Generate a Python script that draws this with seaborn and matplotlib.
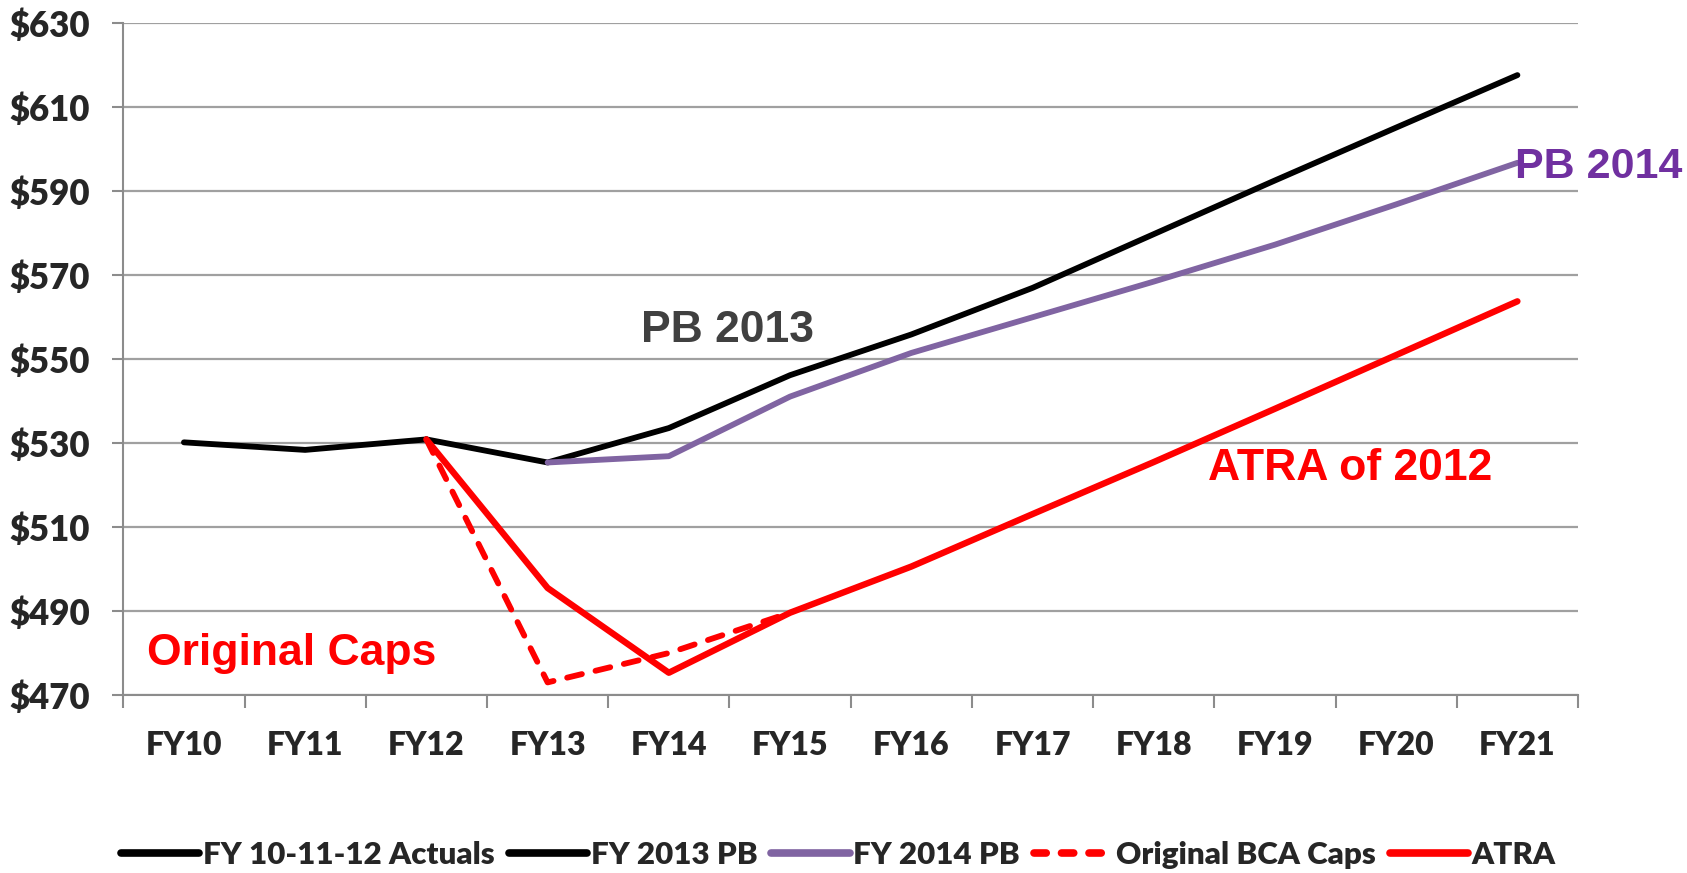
import matplotlib
matplotlib.use("Agg")
import matplotlib.pyplot as plt
import numpy as np
import pandas as pd
import seaborn as sns
from matplotlib.lines import Line2D
from matplotlib.ticker import FixedLocator, NullFormatter

# fiscal years on the x axis
years = ["FY10", "FY11", "FY12", "FY13", "FY14", "FY15",
         "FY16", "FY17", "FY18", "FY19", "FY20", "FY21"]
nan = np.nan

# values ($ billions)
actuals = [530.2, 528.4, 530.9, nan, nan, nan, nan, nan, nan, nan, nan, nan]
pb_2013 = [nan, nan, 530.9, 525.4, 533.6, 546.2, 555.9, 567.0, 579.8, 592.6, 605.2, 617.7]
pb_2014 = [nan, nan, nan, 525.4, 526.9, 541.1, 551.5, 560.0, 568.5, 577.3, 586.9, 596.8]
bca_caps = [nan, nan, 530.9, 473.0, 480.0, 489.6, nan, nan, nan, nan, nan, nan]
atra = [nan, nan, 530.9, 495.5, 475.3, 489.6, 500.6, 513.1, 525.5, 538.2, 551.0, 563.8]

series_names = ["FY 10-11-12 Actuals", "FY 2013 PB", "FY 2014 PB", "Original BCA Caps", "ATRA"]
series_values = [actuals, pb_2013, pb_2014, bca_caps, atra]
series_colors = ["#000000", "#000000", "#8064A2", "#FF0000", "#FF0000"]

y_ticks = list(range(470, 631, 20))
y_labels = ["$" + str(v) for v in y_ticks]

sns.set_style("white")
plt.rcParams['font.family'] = ['Lato', 'DejaVu Sans']
plt.rcParams['font.weight'] = 'heavy'
plt.rcParams['lines.solid_capstyle'] = 'round'
plt.rcParams['lines.dash_capstyle'] = 'round'

fig = plt.figure(figsize=(16.87, 8.73), dpi=100)
ax = fig.add_axes([0.0731, 0.2039, 0.9354 - 0.0731, 0.9731 - 0.2039])

xpos = np.arange(len(years))
df = pd.DataFrame({"x": xpos})
for name, vals in zip(series_names, series_values):
    df[name] = vals

handles = []
for name, color in zip(series_names, series_colors):
    dashed = name == "Original BCA Caps"
    lw = 4.2 if name != "ATRA" else 4.6
    sub = df[["x", name]].dropna()
    sns.lineplot(data=sub, x="x", y=name, ax=ax, color=color, linewidth=lw,
                 sort=False, legend=False, zorder=3 if not dashed else 2.5)
    line = ax.lines[-1]
    if dashed:
        line.set_dashes((2.6, 2.4))
    h = Line2D([], [], color=color, linewidth=5.5)
    if dashed:
        h.set_dashes((1.6, 2.0))
    handles.append(h)

# axes styling (Excel look)
ax.set_xlim(-0.5, len(years) - 0.5)
ax.set_ylim(470, 630)
ax.set_yticks(y_ticks)
ax.set_yticklabels(y_labels)
ax.xaxis.set_major_locator(FixedLocator(np.arange(-0.5, len(years), 1.0)))
ax.xaxis.set_major_formatter(NullFormatter())
ax.xaxis.set_minor_locator(FixedLocator(xpos))
ax.set_xticklabels(years, minor=True)
ax.tick_params(axis="x", which="major", direction="out", length=9, width=1.5,
               color="#8C8C8C", bottom=True)
ax.tick_params(axis="x", which="minor", length=0, pad=26, labelsize=23)
ax.tick_params(axis="y", direction="out", length=8, width=1.5, color="#8C8C8C",
               left=True, pad=16, labelsize=25)
for lbl in ax.get_xticklabels(minor=True) + ax.get_yticklabels():
    lbl.set_fontweight("heavy")
ax.set_xlabel("")
ax.set_ylabel("")
ax.yaxis.grid(True, color="#A0A0A0", linewidth=1.6, zorder=0)
ax.xaxis.grid(False)
ax.set_axisbelow(True)
for side in ["top", "right"]:
    ax.spines[side].set_visible(False)
for side in ["left", "bottom"]:
    ax.spines[side].set_color("#8C8C8C")
    ax.spines[side].set_linewidth(1.5)

# annotations
txt_font = ["Liberation Sans", "DejaVu Sans"]
ax.text(4.48, 556.8, "PB 2013", color="#404040", fontsize=32, fontweight="bold",
        family=txt_font, ha="center", va="center")
ax.text(10.98, 595.9, "PB 2014", color="#7030A0", fontsize=31, fontweight="bold",
        family=txt_font, ha="left", va="center", clip_on=False)
ax.text(9.62, 523.9, "ATRA of 2012", color="#FF0000", fontsize=32, fontweight="bold",
        family=txt_font, ha="center", va="center")
ax.text(0.89, 479.9, "Original Caps", color="#FF0000", fontsize=32, fontweight="bold",
        family=txt_font, ha="center", va="center")

fig.legend(handles, series_names, loc="center", bbox_to_anchor=(0.497, 0.021),
           ncol=5, frameon=False, handlelength=2.5, handletextpad=0.12,
           columnspacing=0.45, prop={"weight": "heavy", "size": 22.5})

fig.savefig("out.png", dpi=100)
